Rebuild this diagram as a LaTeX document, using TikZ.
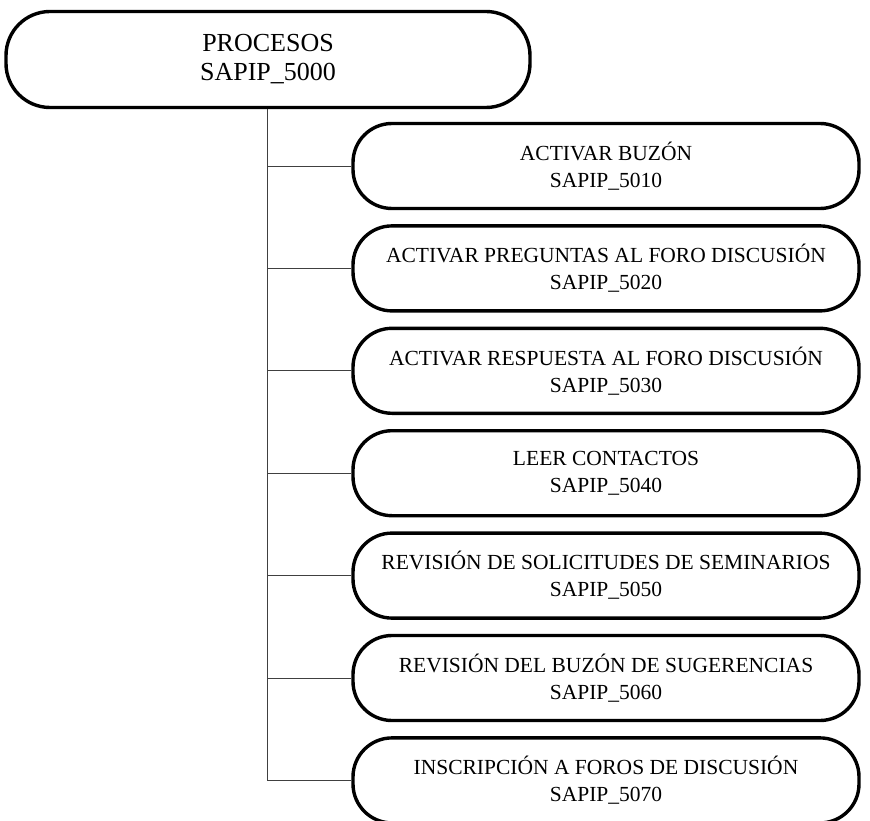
\documentclass[tikz,border=0pt]{standalone}
\usepackage{fontspec}
\setmainfont{Liberation Serif}
\usepackage{tikz}
\usetikzlibrary{positioning, calc}

\begin{document}
\begin{tikzpicture}[
  rootbox/.style={draw, line width=3.4pt, rounded corners=44pt,
                  minimum width=524pt, minimum height=96pt, inner sep=0pt,
                  align=center, font=\fontsize{26}{29}\selectfont},
  procbox/.style={draw, line width=3.4pt, rounded corners=39pt,
                  minimum width=506pt, minimum height=85pt, inner sep=0pt,
                  align=center, font=\fontsize{21.5}{27}\selectfont},
  spine/.style={line width=0.8pt, black!75}
]

\useasboundingbox (0,0) rectangle (870pt,-821pt);

% Root
\node[rootbox] (root) at (268pt,-59.5pt) {PROCESOS\\SAPIP\_5000};

% Processes
\node[procbox] (p5010) at (606pt,-166pt) {ACTIVAR BUZÓN\\SAPIP\_5010};
\node[procbox, below=14pt of p5010] (p5020) {ACTIVAR PREGUNTAS AL FORO DISCUSIÓN\\SAPIP\_5020};
\node[procbox, below=14pt of p5020] (p5030) {ACTIVAR RESPUESTA AL FORO DISCUSIÓN\\SAPIP\_5030};
\node[procbox, below=14pt of p5030] (p5040) {LEER CONTACTOS\\SAPIP\_5040};
\node[procbox, below=14pt of p5040] (p5050) {REVISIÓN DE SOLICITUDES DE SEMINARIOS\\SAPIP\_5050};
\node[procbox, below=14pt of p5050] (p5060) {REVISIÓN DEL BUZÓN DE SUGERENCIAS\\SAPIP\_5060};
\node[procbox, below=14pt of p5060] (p5070) {INSCRIPCIÓN A FOROS DE DISCUSIÓN\\SAPIP\_5070};

% Connectors
\coordinate (trunk) at ($(root.south)+(-1pt,0)$);
\draw[spine] (trunk) |- (p5070.west);
\draw[spine] (trunk |- p5010.west) -- (p5010.west);
\draw[spine] (trunk |- p5020.west) -- (p5020.west);
\draw[spine] (trunk |- p5030.west) -- (p5030.west);
\draw[spine] (trunk |- p5040.west) -- (p5040.west);
\draw[spine] (trunk |- p5050.west) -- (p5050.west);
\draw[spine] (trunk |- p5060.west) -- (p5060.west);

\end{tikzpicture}
\end{document}
